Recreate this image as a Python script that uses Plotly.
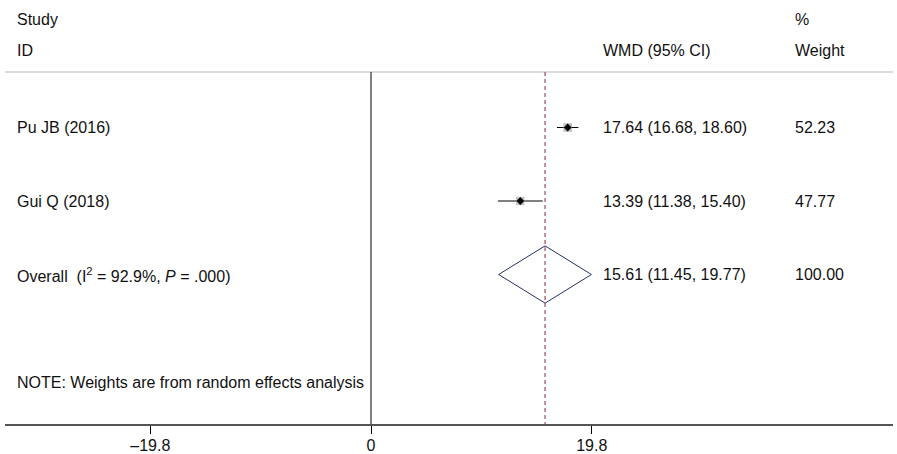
import plotly.graph_objects as go

# ---- data ----
studies = ["Pu JB (2016)", "Gui Q (2018)"]
wmd = [17.64, 13.39]
ci_low = [16.68, 11.38]
ci_high = [18.60, 15.40]
weights = [52.23, 47.77]
overall_label = "Overall  (I<sup>2</sup> = 92.9%, <i>P</i> = .000)"
overall_wmd = 15.61
overall_low = 11.45
overall_high = 19.77
overall_weight = 100.00
tick_vals = [-19.8, 0, 19.8]
tick_text = ["\u201319.8", "0", "19.8"]
note = "NOTE: Weights are from random effects analysis"

# ---- layout constants (row units) ----
W, H = 897, 454
ML, MR, MT, MB = 5, 4, 0, 30
Y_TOP, Y_BOT = -0.735, 5.034
ROW_STUDY_HDR, ROW_ID_HDR, ROW_RULE, ROW_NOTE = -0.476, -0.048, 0.245, 4.476
XMIN, XMAX = -32.83, 46.82
FONT = dict(family="Liberation Sans, Arial, sans-serif", size=16, color="#111111")
X_LEFT_COL, X_EST_COL, X_W_COL = 0.0113, 0.6708, 0.8874

rows = list(range(1, len(studies) + 1))
overall_row = len(studies) + 1

fig = go.Figure()

# CI lines
for r, lo, hi in zip(rows, ci_low, ci_high):
    fig.add_trace(go.Scatter(x=[lo, hi], y=[r, r], mode="lines",
                             line=dict(color="black", width=1), showlegend=False,
                             hoverinfo="skip"))
# weight boxes
fig.add_trace(go.Scatter(x=wmd, y=rows, mode="markers",
                         marker=dict(symbol="square", color="#a6a6a6",
                                     size=[8.5 * (w / 50) ** 0.5 for w in weights],
                                     line=dict(width=0)),
                         showlegend=False, hoverinfo="skip"))
# point estimates
fig.add_trace(go.Scatter(x=wmd, y=rows, mode="markers",
                         marker=dict(symbol="diamond", color="black", size=6),
                         showlegend=False))
# overall diamond
dh = 0.39
fig.add_trace(go.Scatter(
    x=[overall_low, overall_wmd, overall_high, overall_wmd, overall_low],
    y=[overall_row, overall_row - dh, overall_row, overall_row + dh, overall_row],
    mode="lines", line=dict(color="#27306b", width=1), showlegend=False,
    hoverinfo="skip"))

shapes = [
    # header rule
    dict(type="line", xref="paper", yref="y", x0=0, x1=1, y0=ROW_RULE, y1=ROW_RULE,
         line=dict(color="#dcdcdc", width=2), layer="below"),
    # null line
    dict(type="line", xref="x", yref="y", x0=0, x1=0, y0=ROW_RULE, y1=Y_BOT,
         line=dict(color="black", width=1)),
    # overall effect line
    dict(type="line", xref="x", yref="y", x0=overall_wmd, x1=overall_wmd,
         y0=ROW_RULE, y1=Y_BOT,
         line=dict(color="#9a4a58", width=1.2, dash="4px,3px")),
]

ann = []
def txt(x, y, s):
    ann.append(dict(x=x, y=y, xref="paper", yref="y", text=s, showarrow=False,
                    xanchor="left", yanchor="middle", font=FONT))

txt(X_LEFT_COL, ROW_STUDY_HDR, "Study")
txt(X_LEFT_COL, ROW_ID_HDR, "ID")
txt(X_W_COL, ROW_STUDY_HDR, "%")
txt(X_EST_COL, ROW_ID_HDR, "WMD (95% CI)")
txt(X_W_COL, ROW_ID_HDR, "Weight")
for r, s, e, lo, hi, w in zip(rows, studies, wmd, ci_low, ci_high, weights):
    txt(X_LEFT_COL, r, s)
    txt(X_EST_COL, r, f"{e:.2f} ({lo:.2f}, {hi:.2f})")
    txt(X_W_COL, r, f"{w:.2f}")
txt(X_LEFT_COL, overall_row, overall_label)
txt(X_EST_COL, overall_row,
    f"{overall_wmd:.2f} ({overall_low:.2f}, {overall_high:.2f})")
txt(X_W_COL, overall_row, f"{overall_weight:.2f}")
txt(X_LEFT_COL, ROW_NOTE, note)

fig.update_layout(
    width=W, height=H,
    margin=dict(l=ML, r=MR, t=MT, b=MB, pad=0),
    paper_bgcolor="white", plot_bgcolor="white",
    shapes=shapes, annotations=ann, showlegend=False,
    xaxis=dict(range=[XMIN, XMAX], tickvals=tick_vals, ticktext=tick_text,
               ticks="outside", ticklen=8, tickcolor="black", tickwidth=1,
               ticklabelstandoff=-2,
               showline=True, linecolor="#555555", linewidth=1.5,
               showgrid=False, zeroline=False, tickfont=FONT, automargin=False,
               fixedrange=True),
    yaxis=dict(range=[Y_BOT, Y_TOP], visible=False, showgrid=False,
               zeroline=False, fixedrange=True),
)

fig.write_html("out.html")
